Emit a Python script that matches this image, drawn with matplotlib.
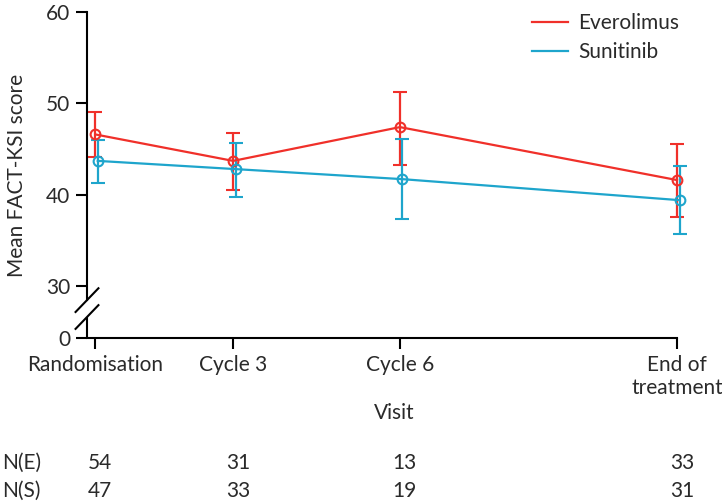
import matplotlib.pyplot as plt
import matplotlib.transforms as mtransforms
from matplotlib.lines import Line2D
import numpy as np

plt.rcParams['font.family'] = ['Lato', 'DejaVu Sans']

visits = ['Randomisation', 'Cycle 3', 'Cycle 6', 'End of\ntreatment']
visitX = np.array([0, 1.0, 2.21, 4.22])

everoMean = np.array([46.6, 43.7, 47.4, 41.6])
everoUpper = np.array([49.1, 46.8, 51.3, 45.6])
everoLower = np.array([44.1, 40.5, 43.3, 37.5])

sunitMean = np.array([43.7, 42.8, 41.7, 39.4])
sunitUpper = np.array([46.0, 45.7, 46.1, 43.1])
sunitLower = np.array([41.3, 39.7, 37.3, 35.7])

nEvero = [54, 31, 13, 33]
nSunit = [47, 33, 19, 31]

red = '#f0302a'
blue = '#1ea5cc'
textCol = '#2a2a2a'
fs = 15

# broken axis: 0 is drawn just below 30
zeroPos = 24.3
breakTop = 28.45
breakBottom = 26.6

fig = plt.figure(figsize=(7.22, 5.03), dpi=100)
ax = fig.add_axes([0.1205, 0.328, 0.8172, 0.648])

dx = 0.018
for xs, m, lo, hi, col in [(visitX, everoMean, everoLower, everoUpper, red),
                           (visitX + dx, sunitMean, sunitLower, sunitUpper, blue)]:
    eb = ax.errorbar(xs, m, yerr=[m - lo, hi - m],
                     color=col, lw=1.6, marker='o', mfc='none', mec=col, ms=7, mew=1.5,
                     capsize=5, capthick=1.6, zorder=3)
    for art in eb.get_children():
        art.set_clip_on(False)

ax.set_xlim(-0.06, 4.22)
ax.set_ylim(zeroPos, 60)
ax.set_yticks([zeroPos, 30, 40, 50, 60])
ax.set_yticklabels(['0', '30', '40', '50', '60'])
ax.set_xticks(visitX)
ax.set_xticklabels(visits)

for s in ['top', 'right']:
    ax.spines[s].set_visible(False)
ax.spines['left'].set_bounds(breakTop, 60)
ax.spines['left'].set_linewidth(1.5)
ax.spines['bottom'].set_linewidth(1.5)
ax.tick_params(axis='both', length=8, width=1.5, labelsize=fs, colors='black',
               labelcolor=textCol, pad=4)

# lower part of spine and break marks
ax.plot([-0.06, -0.06], [zeroPos, breakBottom], color='black', lw=1.5,
        clip_on=False, zorder=4, solid_capstyle='butt')
for yb in [breakTop, breakBottom]:
    ax.plot([-0.143, 0.023], [yb - 1.3, yb + 1.3], color='black', lw=1.5,
            clip_on=False, zorder=4)

ax.set_ylabel('Mean FACT-KSI score', fontsize=fs, color=textCol)
ax.yaxis.set_label_coords(-0.102, 0.5)
ax.set_xlabel('Visit', fontsize=fs, color=textCol)
ax.xaxis.set_label_coords(0.52, -0.20)

handles = [Line2D([], [], color=red, lw=1.6), Line2D([], [], color=blue, lw=1.6)]
leg = ax.legend(handles, ['Everolimus', 'Sunitinib'], loc='upper right', frameon=False,
                fontsize=fs, handlelength=1.7, bbox_to_anchor=(1.035, 1.055),
                labelspacing=0.45, handletextpad=0.5)
for t in leg.get_texts():
    t.set_color(textCol)

# number at risk rows
trans = mtransforms.blended_transform_factory(ax.transData, fig.transFigure)
fig.text(0.003, 1 - 463 / 503, 'N(E)', fontsize=fs, color=textCol, va='center')
fig.text(0.003, 1 - 491 / 503, 'N(S)', fontsize=fs, color=textCol, va='center')
for x, ne, ns in zip(visitX, nEvero, nSunit):
    ax.text(x + 0.035, 1 - 463 / 503, str(ne), transform=trans, ha='center',
            va='center', fontsize=fs, color=textCol)
    ax.text(x + 0.035, 1 - 491 / 503, str(ns), transform=trans, ha='center',
            va='center', fontsize=fs, color=textCol)

fig.savefig('out.png', dpi=100)
